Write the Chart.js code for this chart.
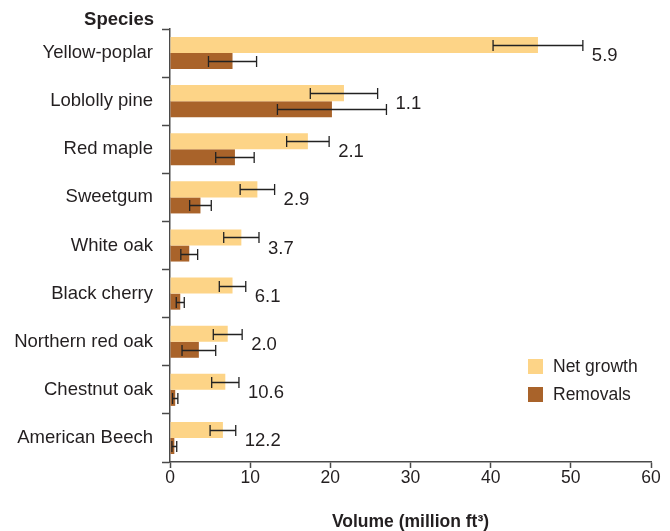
<!DOCTYPE html>
<html>
<head>
<meta charset="utf-8">
<title>Net growth and removals by species</title>
<script src="https://cdn.jsdelivr.net/npm/chart.js@4.4.1/dist/chart.umd.min.js"></script>
<style>
  html, body { margin: 0; padding: 0; background: #fff; }
  canvas { display: block; }
</style>
</head>
<body>
<canvas id="chart" width="670" height="531"></canvas>
<script>
// volumes in million ft3
const species = ['Yellow-poplar', 'Loblolly pine', 'Red maple', 'Sweetgum', 'White oak',
  'Black cherry', 'Northern red oak', 'Chestnut oak', 'American Beech']
const netGrowth = [45.9, 21.7, 17.2, 10.9, 8.9, 7.8, 7.2, 6.9, 6.6]
const removals = [7.8, 20.2, 8.1, 3.8, 2.4, 1.28, 3.6, 0.65, 0.54]
const netGrowthErr = [5.6, 4.2, 2.65, 2.15, 2.2, 1.65, 1.8, 1.7, 1.6]
const removalsErr = [3.0, 6.8, 2.4, 1.35, 1.05, 0.5, 2.1, 0.33, 0.3]
const xTicks = [0, 10, 20, 30, 40, 50, 60]

const FONT = "'Liberation Sans', Arial, Helvetica, sans-serif"
const TEXT = '#231f20'
const AXIS = '#4a4a4a'

// +/- error whiskers on each bar
const errorBars = {
  id: 'errorBars',
  afterDatasetsDraw(chart) {
    const { ctx } = chart
    const x = chart.scales.x
    const errs = [netGrowthErr, removalsErr]
    ctx.save()
    ctx.strokeStyle = '#222'
    ctx.lineWidth = 1.3
    chart.data.datasets.forEach((ds, di) => {
      chart.getDatasetMeta(di).data.forEach((bar, i) => {
        const lo = x.getPixelForValue(ds.data[i] - errs[di][i])
        const hi = x.getPixelForValue(ds.data[i] + errs[di][i])
        const y = Math.round(bar.y) + 0.5
        ctx.beginPath()
        ctx.moveTo(lo, y); ctx.lineTo(hi, y)
        ctx.moveTo(lo, y - 5.5); ctx.lineTo(lo, y + 5.5)
        ctx.moveTo(hi, y - 5.5); ctx.lineTo(hi, y + 5.5)
        ctx.stroke()
      })
    })
    ctx.restore()
  }
}

// growth-to-removals ratio next to each species
const ratioLabels = {
  id: 'ratioLabels',
  afterDatasetsDraw(chart) {
    const { ctx } = chart
    const { x, y } = chart.scales
    ctx.save()
    ctx.font = '18.5px ' + FONT
    ctx.fillStyle = TEXT
    ctx.textAlign = 'left'
    ctx.textBaseline = 'middle'
    species.forEach((s, i) => {
      const end = Math.max(netGrowth[i] + netGrowthErr[i], removals[i] + removalsErr[i])
      const ratio = (netGrowth[i] / removals[i]).toFixed(1)
      ctx.fillText(ratio, x.getPixelForValue(end) + 9, y.getPixelForValue(i) + 3)
    })
    ctx.restore()
  }
}

// "Species" heading over the category labels
const speciesHeading = {
  id: 'speciesHeading',
  afterDraw(chart) {
    const { ctx } = chart
    ctx.save()
    ctx.font = 'bold 18.5px ' + FONT
    ctx.fillStyle = TEXT
    ctx.textAlign = 'right'
    ctx.textBaseline = 'middle'
    ctx.fillText('Species', chart.scales.y.right - 16, 20)
    ctx.restore()
  }
}

// legend sitting in the lower right of the plot area
const insideLegend = {
  id: 'insideLegend',
  afterDraw(chart) {
    const { ctx, chartArea } = chart
    const left = chartArea.right - 123
    const top = chartArea.bottom - 103
    ctx.save()
    ctx.font = '17.5px ' + FONT
    ctx.textAlign = 'left'
    ctx.textBaseline = 'middle'
    chart.data.datasets.forEach((ds, i) => {
      const yy = top + i * 28
      ctx.fillStyle = ds.backgroundColor
      ctx.fillRect(left, yy, 15, 15)
      ctx.fillStyle = TEXT
      ctx.fillText(ds.label, left + 25, yy + 8.5)
    })
    ctx.restore()
  }
}

new Chart(document.getElementById('chart'), {
  type: 'bar',
  data: {
    labels: species,
    datasets: [
      { label: 'Net growth', data: netGrowth, backgroundColor: '#fdd487' },
      { label: 'Removals', data: removals, backgroundColor: '#a9632a' }
    ]
  },
  options: {
    indexAxis: 'y',
    responsive: false,
    animation: false,
    devicePixelRatio: 1,
    layout: { padding: { top: 29, right: 19, bottom: 0, left: 0 } },
    datasets: { bar: { categoryPercentage: 0.667, barPercentage: 1.0 } },
    plugins: {
      legend: { display: false },
      tooltip: { enabled: false }
    },
    scales: {
      x: {
        min: 0,
        max: 60,
        afterBuildTicks: (scale) => { scale.ticks = xTicks.map(v => ({ value: v })) },
        afterFit: (scale) => { scale.height = 69 },
        border: { display: true, color: AXIS, width: 1.5 },
        grid: { drawOnChartArea: false, drawTicks: true, tickLength: 6, color: AXIS, tickWidth: 1.5 },
        ticks: { color: TEXT, font: { family: FONT, size: 17.5 }, padding: 0 },
        title: {
          display: true,
          text: 'Volume (million ft³)',
          color: TEXT,
          font: { family: FONT, size: 17.5, weight: 'bold', lineHeight: 1.0 },
          padding: 0
        }
      },
      y: {
        afterFit: (scale) => { scale.width = 170 },
        border: { display: true, color: AXIS, width: 1.5 },
        grid: { offset: true, drawOnChartArea: false, drawTicks: true, tickLength: 8, color: AXIS, tickWidth: 1.5 },
        ticks: { color: TEXT, font: { family: FONT, size: 18.5 }, padding: 9 }
      }
    }
  },
  plugins: [errorBars, ratioLabels, speciesHeading, insideLegend]
})
</script>
</body>
</html>
